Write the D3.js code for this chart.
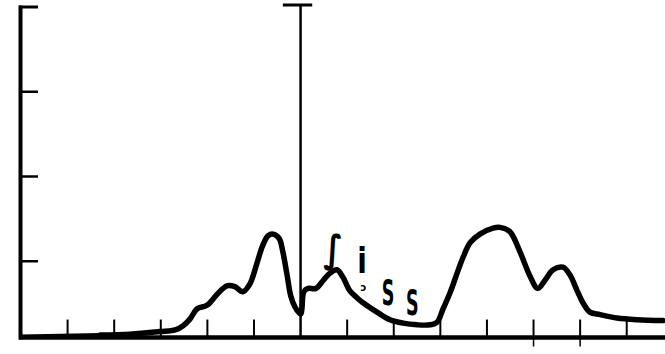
<!DOCTYPE html>
<html><head><meta charset="utf-8">
<script src="https://cdn.jsdelivr.net/npm/d3@7/dist/d3.min.js"></script>
<style>html,body{margin:0;padding:0;background:#fff;}svg{display:block;}</style>
</head><body>
<svg id="c" width="665" height="354"></svg>
<script>
// Curve samples: x in tick units, y in left-axis tick units
const curveX = [1.70,2.34,2.98,3.31,3.48,3.63,3.78,3.99,4.21,4.42,4.59,4.76,4.91,5.06,5.19,5.30,5.41,5.54,5.62,5.71,5.79,5.88,5.97,6.01,6.07,6.16,6.33,6.48,6.63,6.78,6.91,7.06,7.21,7.34,7.64,7.92,8.20,8.50,8.78,8.93,9.06,9.21,9.36,9.49,9.64,9.85,10.13,10.28,10.49,10.71,10.92,11.09,11.25,11.42,11.63,11.78,11.93,12.06,12.21,12.43,12.79,13.22,13.78];
const curveY = [0.13,0.14,0.17,0.19,0.24,0.32,0.44,0.48,0.61,0.71,0.70,0.64,0.73,0.97,1.19,1.30,1.32,1.27,1.11,0.84,0.59,0.46,0.39,0.38,0.64,0.68,0.68,0.77,0.86,0.90,0.81,0.65,0.57,0.51,0.40,0.31,0.27,0.25,0.25,0.28,0.44,0.63,0.86,1.05,1.22,1.32,1.39,1.40,1.35,1.11,0.83,0.68,0.78,0.90,0.93,0.84,0.66,0.51,0.40,0.37,0.33,0.31,0.30];
const bottomTicks = [1,2,3,4,5,7,8,9,10,11,12,13];
const downTicks = [11,12];
const leftTicks = [1,2,3];
const topValue = 4;
const baseValue = 0.1;
const markerX = 6;
const labels = [
  {t:"∫", x:6.7, y:0.99, size:38, sx:0.85},
  {t:"i", x:7.32, y:0.86, size:35, sx:0.8},
  {t:"ɔ", x:7.35, y:0.65, size:10, sx:1},
  {t:"S", x:7.88, y:0.48, size:35, sx:0.5},
  {t:"S", x:8.4, y:0.36, size:35, sx:0.5}
];

const svg = d3.select("#c");
const x = d3.scaleLinear().domain([0, 13.8]).range([21, 664]);
const y = d3.scaleLinear().domain([0, 4]).range([346, 7]);
const y0 = y(baseValue);

// left axis
svg.append("line").attr("x1", x(0)-0.5).attr("x2", x(0)-0.5).attr("y1", y(topValue)-1.5).attr("y2", y0+2)
  .attr("stroke","#000").attr("stroke-width",4);
svg.append("line").attr("x1", x(0)-2).attr("x2", x(0)+17).attr("y1", y(topValue)).attr("y2", y(topValue))
  .attr("stroke","#000").attr("stroke-width",3);
svg.selectAll(".lt").data(leftTicks).join("line")
  .attr("x1", x(0)).attr("x2", x(0)+17).attr("y1", d=>y(d)).attr("y2", d=>y(d))
  .attr("stroke","#000").attr("stroke-width",2.5);

// bottom ticks
svg.selectAll(".bt").data(bottomTicks).join("line")
  .attr("x1", d=>x(d)).attr("x2", d=>x(d)).attr("y1", y0).attr("y2", y0-18)
  .attr("stroke","#000").attr("stroke-width",2);
svg.selectAll(".dt").data(downTicks).join("line")
  .attr("x1", d=>x(d)).attr("x2", d=>x(d)).attr("y1", y0).attr("y2", y0+9)
  .attr("stroke","#000").attr("stroke-width",1.5);

// baseline
svg.append("line").attr("x1", x(0)-2).attr("x2", 665).attr("y1", y0).attr("y2", y0)
  .attr("stroke","#000").attr("stroke-width",4.5);

// vertical marker
svg.append("line").attr("x1", x(markerX)).attr("x2", x(markerX)).attr("y1", y(topValue)-2).attr("y2", y0)
  .attr("stroke","#000").attr("stroke-width",2.5);
svg.append("line").attr("x1", x(markerX-0.38)).attr("x2", x(markerX+0.25)).attr("y1", y(topValue)-2).attr("y2", y(topValue)-2)
  .attr("stroke","#000").attr("stroke-width",3);

// curve
const pts = curveX.map((v,i)=>[v, curveY[i]]);
svg.append("path").datum(pts)
  .attr("d", d3.line().x(d=>x(d[0])).y(d=>y(d[1])).curve(d3.curveCatmullRom.alpha(0.5)))
  .attr("fill","none").attr("stroke","#000").attr("stroke-width",5.5)
  .attr("stroke-linejoin","round").attr("stroke-linecap","round");
// tail merging into baseline
svg.append("line").attr("x1", x(0)).attr("x2", x(curveX[0])).attr("y1", y0-1).attr("y2", y(curveY[0]))
  .attr("stroke","#000").attr("stroke-width",4);

// labels
svg.selectAll(".lb").data(labels).join("text")
  .attr("transform", d=>`translate(${x(d.x)},${y(d.y)}) scale(${d.sx},1)`)
  .attr("text-anchor","middle")
  .attr("font-family","DejaVu Sans, sans-serif")
  .attr("font-weight","bold")
  .attr("font-size", d=>d.size)
  .attr("fill","#000")
  .text(d=>d.t);
</script>
</body></html>
